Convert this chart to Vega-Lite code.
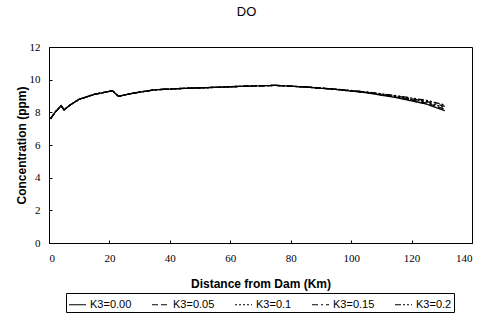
{
 "$schema": "https://vega.github.io/schema/vega-lite/v6.json",
 "width": 423, "height": 196,
 "autosize": {"type": "none"},
 "padding": {"left": 49, "top": 47, "right": 7, "bottom": 75},
 "background": "white",
 "title": {"text": "DO", "font": "Liberation Sans", "fontSize": 13, "fontWeight": "normal", "offset": 22, "dx": -14, "frame": "group"},
 "config": {
  "view": {"stroke": "black", "strokeWidth": 1},
  "axis": {"grid": false, "domainColor": "black", "tickColor": "black", "tickSize": -3, "labelPadding": 12,
   "labelFont": "Liberation Serif", "labelFontSize": 11, "labelColor": "black",
   "titleFont": "Liberation Sans", "titleFontSize": 12, "titleFontWeight": "bold", "titleColor": "black"},
  "legend": {"strokeColor": "black", "fillColor": "white", "strokeWidth": 1}
 },
 "data": {"values": [
  {"km":0.5,"c":7.6,"k":"K3=0.00"},{"km":2,"c":8.0,"k":"K3=0.00"},{"km":4,"c":8.4,"k":"K3=0.00"},{"km":5,"c":8.15,"k":"K3=0.00"},{"km":7,"c":8.45,"k":"K3=0.00"},{"km":10,"c":8.8,"k":"K3=0.00"},{"km":15,"c":9.1,"k":"K3=0.00"},{"km":21,"c":9.32,"k":"K3=0.00"},{"km":23,"c":8.98,"k":"K3=0.00"},{"km":28,"c":9.18,"k":"K3=0.00"},{"km":35,"c":9.38,"k":"K3=0.00"},{"km":45,"c":9.47,"k":"K3=0.00"},{"km":55,"c":9.53,"k":"K3=0.00"},{"km":65,"c":9.6,"k":"K3=0.00"},{"km":75,"c":9.65,"k":"K3=0.00"},{"km":85,"c":9.55,"k":"K3=0.00"},{"km":95,"c":9.4,"k":"K3=0.00"},{"km":105,"c":9.2,"k":"K3=0.00"},{"km":115,"c":8.9,"k":"K3=0.00"},{"km":125,"c":8.5,"k":"K3=0.00"},{"km":131,"c":8.1,"k":"K3=0.00"},
  {"km":0.5,"c":7.6,"k":"K3=0.05"},{"km":2,"c":8.0,"k":"K3=0.05"},{"km":4,"c":8.4,"k":"K3=0.05"},{"km":5,"c":8.15,"k":"K3=0.05"},{"km":7,"c":8.45,"k":"K3=0.05"},{"km":10,"c":8.8,"k":"K3=0.05"},{"km":15,"c":9.1,"k":"K3=0.05"},{"km":21,"c":9.32,"k":"K3=0.05"},{"km":23,"c":8.98,"k":"K3=0.05"},{"km":28,"c":9.18,"k":"K3=0.05"},{"km":35,"c":9.38,"k":"K3=0.05"},{"km":45,"c":9.47,"k":"K3=0.05"},{"km":55,"c":9.53,"k":"K3=0.05"},{"km":65,"c":9.6,"k":"K3=0.05"},{"km":75,"c":9.65,"k":"K3=0.05"},{"km":85,"c":9.55,"k":"K3=0.05"},{"km":95,"c":9.4,"k":"K3=0.05"},{"km":105,"c":9.21,"k":"K3=0.05"},{"km":115,"c":8.93,"k":"K3=0.05"},{"km":125,"c":8.56,"k":"K3=0.05"},{"km":131,"c":8.19,"k":"K3=0.05"},
  {"km":0.5,"c":7.6,"k":"K3=0.1"},{"km":2,"c":8.0,"k":"K3=0.1"},{"km":4,"c":8.4,"k":"K3=0.1"},{"km":5,"c":8.15,"k":"K3=0.1"},{"km":7,"c":8.45,"k":"K3=0.1"},{"km":10,"c":8.8,"k":"K3=0.1"},{"km":15,"c":9.1,"k":"K3=0.1"},{"km":21,"c":9.32,"k":"K3=0.1"},{"km":23,"c":8.98,"k":"K3=0.1"},{"km":28,"c":9.18,"k":"K3=0.1"},{"km":35,"c":9.38,"k":"K3=0.1"},{"km":45,"c":9.47,"k":"K3=0.1"},{"km":55,"c":9.53,"k":"K3=0.1"},{"km":65,"c":9.6,"k":"K3=0.1"},{"km":75,"c":9.65,"k":"K3=0.1"},{"km":85,"c":9.55,"k":"K3=0.1"},{"km":95,"c":9.41,"k":"K3=0.1"},{"km":105,"c":9.23,"k":"K3=0.1"},{"km":115,"c":8.96,"k":"K3=0.1"},{"km":125,"c":8.62,"k":"K3=0.1"},{"km":131,"c":8.28,"k":"K3=0.1"},
  {"km":0.5,"c":7.6,"k":"K3=0.15"},{"km":2,"c":8.0,"k":"K3=0.15"},{"km":4,"c":8.4,"k":"K3=0.15"},{"km":5,"c":8.15,"k":"K3=0.15"},{"km":7,"c":8.45,"k":"K3=0.15"},{"km":10,"c":8.8,"k":"K3=0.15"},{"km":15,"c":9.1,"k":"K3=0.15"},{"km":21,"c":9.32,"k":"K3=0.15"},{"km":23,"c":8.98,"k":"K3=0.15"},{"km":28,"c":9.18,"k":"K3=0.15"},{"km":35,"c":9.38,"k":"K3=0.15"},{"km":45,"c":9.47,"k":"K3=0.15"},{"km":55,"c":9.53,"k":"K3=0.15"},{"km":65,"c":9.6,"k":"K3=0.15"},{"km":75,"c":9.65,"k":"K3=0.15"},{"km":85,"c":9.55,"k":"K3=0.15"},{"km":95,"c":9.41,"k":"K3=0.15"},{"km":105,"c":9.24,"k":"K3=0.15"},{"km":115,"c":8.99,"k":"K3=0.15"},{"km":125,"c":8.67,"k":"K3=0.15"},{"km":131,"c":8.36,"k":"K3=0.15"},
  {"km":0.5,"c":7.6,"k":"K3=0.2"},{"km":2,"c":8.0,"k":"K3=0.2"},{"km":4,"c":8.4,"k":"K3=0.2"},{"km":5,"c":8.15,"k":"K3=0.2"},{"km":7,"c":8.45,"k":"K3=0.2"},{"km":10,"c":8.8,"k":"K3=0.2"},{"km":15,"c":9.1,"k":"K3=0.2"},{"km":21,"c":9.32,"k":"K3=0.2"},{"km":23,"c":8.98,"k":"K3=0.2"},{"km":28,"c":9.18,"k":"K3=0.2"},{"km":35,"c":9.38,"k":"K3=0.2"},{"km":45,"c":9.47,"k":"K3=0.2"},{"km":55,"c":9.53,"k":"K3=0.2"},{"km":65,"c":9.6,"k":"K3=0.2"},{"km":75,"c":9.65,"k":"K3=0.2"},{"km":85,"c":9.55,"k":"K3=0.2"},{"km":95,"c":9.42,"k":"K3=0.2"},{"km":105,"c":9.25,"k":"K3=0.2"},{"km":115,"c":9.02,"k":"K3=0.2"},{"km":125,"c":8.73,"k":"K3=0.2"},{"km":131,"c":8.45,"k":"K3=0.2"}
 ]},
 "mark": {"type": "line", "color": "black", "strokeWidth": 1.3},
 "encoding": {
  "x": {"field": "km", "type": "quantitative", "scale": {"domain": [0, 140], "nice": false},
   "axis": {"title": "Distance from Dam (Km)", "values": [0,20,40,60,80,100,120,140], "titlePadding": 15}},
  "y": {"field": "c", "type": "quantitative", "scale": {"domain": [0, 12], "nice": false},
   "axis": {"title": "Concentration (ppm)", "values": [0,2,4,6,8,10,12], "titleX": -21, "titleBaseline": "bottom"}},
  "strokeDash": {"field": "k", "type": "nominal",
   "scale": {"domain": ["K3=0.00","K3=0.05","K3=0.1","K3=0.15","K3=0.2"], "range": [[1,0],[6,3],[2,2],[6,3,2,3],[6,2,2,2,2,2]]},
   "legend": {"orient": "none", "legendX": 17, "legendY": 246, "direction": "horizontal", "columns": 5, "title": null,
    "strokeColor": "black", "fillColor": "white", "padding": 2, "symbolType": "stroke", "symbolSize": 289, "symbolStrokeColor": "black", "symbolStrokeWidth": 1.2,
    "labelFont": "Liberation Sans", "labelFontSize": 11, "labelColor": "black", "labelOffset": 3, "columnPadding": 17, "labelLimit": 80}}
 }
}
